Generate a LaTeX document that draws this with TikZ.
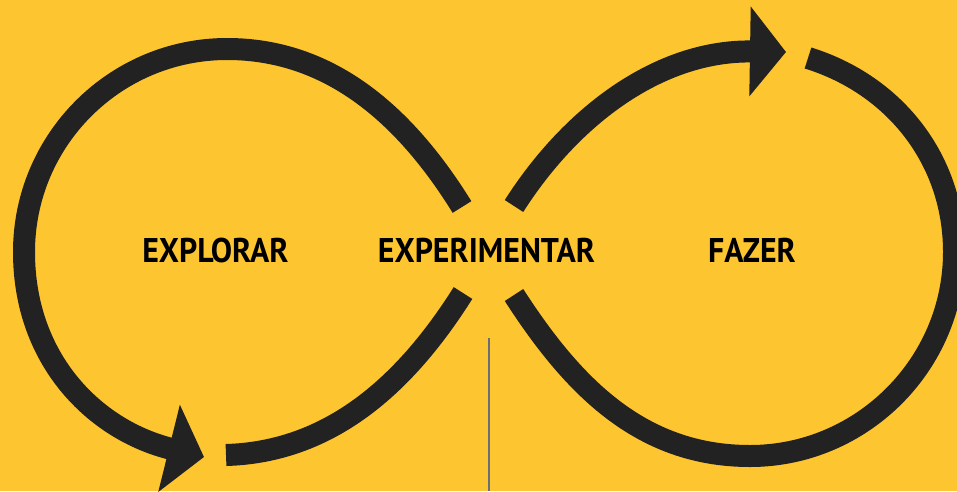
\documentclass[tikz,border=0pt]{standalone}
\usepackage{fontspec}
\setmainfont{PT Sans}[FakeStretch=0.93]
\usetikzlibrary{arrows.meta, positioning}
\definecolor{amarelo}{HTML}{FDC52F}
\definecolor{tinta}{HTML}{222222}
\definecolor{fio}{HTML}{6A6E75}
\tikzset{
	laco/.style={line width=4.4mm, tinta, line cap=butt},
	seta/.style={-{Triangle[length=7.2mm, width=17.6mm]}},
	rotulo/.style={font=\bfseries\fontsize{19.5}{20}\selectfont, inner sep=0pt}
}

\begin{document}
\begin{tikzpicture}[x=0.2mm, y=-0.2mm]
		\fill[amarelo] (0,0) rectangle (957,491);
		\useasboundingbox (0,0) rectangle (957,491);
		\clip (0,0) rectangle (957,491);
		% lado esquerdo
		\draw[laco, seta] (462,207) .. controls (405,115) and (330,49) .. (227,49) .. controls (115,49) and (24,140) .. (24,252) .. controls (24,360) and (95,430) .. (204,457);
		\draw[laco] (226,455) .. controls (330,452) and (405,385) .. (463,293);
		% lado direito
		\draw[laco, seta] (514,206) .. controls (572,115) and (660,50) .. (786,52);
		\draw[laco] (808,58) .. controls (895,85) and (954,160) .. (954,252) .. controls (954,364) and (862,456) .. (750,456) .. controls (640,456) and (572,385) .. (514,295);
		\draw[fio, line width=0.4mm] (489,338) -- (489,491);
		% textos
		\node[rotulo] (experimentar) at (486.5,250) {EXPERIMENTAR};
		\node[rotulo] (explorar) at (215.5,250) {EXPLORAR};
		\node[rotulo] (fazer) at (752,250) {FAZER};
	\end{tikzpicture}
\end{document}
